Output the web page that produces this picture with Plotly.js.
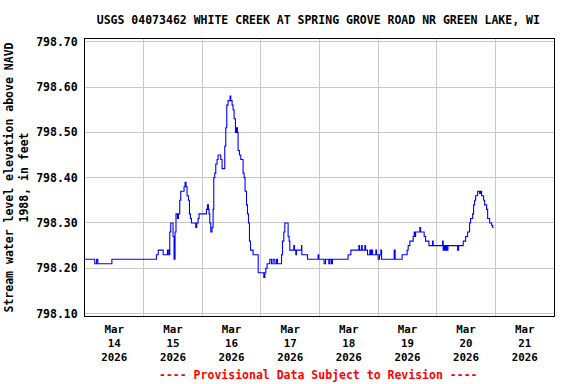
<!DOCTYPE html>
<html>
<head>
<meta charset="utf-8">
<script src="https://cdn.plot.ly/plotly-3.0.1.min.js"></script>
<style>html,body{margin:0;padding:0;background:#fff;}#chart{width:576px;height:384px;}</style>
</head>
<body>
<div id="chart"></div>
<script>
// Hours elapsed since 2026-03-14 00:00 (local station time)
const hoursFromMar14 = [0,4,4.75,5.25,11,29.25,30,32,33.75,34.25,34.7,35.1,36.05,36.45,36.86,37.25,37.85,38.26,38.79,39.2,40.55,40.96,41.37,41.78,42.35,42.76,43.17,43.58,45.34,45.75,46.28,46.69,49.73,50.13,50.54,50.79,51.08,51.49,52.02,52.43,52.72,53.13,53.53,54.07,54.48,55.58,56.12,57.22,57.63,58.04,58.57,59.39,59.68,60.21,60.62,61.03,61.6,62.01,62.42,62.67,63.24,63.78,64.72,65.13,65.54,66.11,66.52,66.93,67.34,67.75,68.81,70.9,73.2,73.61,74.02,74.55,75.65,76.35,77.0,77.7,78.4,78.81,80.45,80.85,81.39,81.8,83.15,83.56,83.85,85.48,85.77,86.3,86.59,88.64,88.76,91.1,95.44,95.72,97.89,98.47,99.82,100.3,100.93,101.3,107.72,108.83,112.11,112.4,113.21,113.46,114.57,114.85,115.67,116.61,116.9,117.31,117.72,119.07,119.36,120.01,120.59,121.12,121.41,126.57,126.98,129.84,131.89,132.3,133.0,134.35,134.76,135.05,135.33,137.09,137.38,138.85,139.43,140.78,142.3,142.54,146.39,146.64,146.92,147.21,147.46,147.75,148.03,148.28,148.56,152.53,152.95,154.83,155.81,156.63,157.45,157.86,158.68,159.09,159.5,159.91,160.73,161.55,161.96,162.37,163.19,163.6,164.42,164.83,165.65,166.47,166.88,167.29];

// Stream water level elevation, feet above NAVD 1988
const waterLevel = [798.22,798.21,798.22,798.21,798.22,798.23,798.24,798.23,798.24,798.23,798.28,798.30,798.27,798.22,798.28,798.32,798.31,798.32,798.35,798.37,798.38,798.39,798.38,798.36,798.35,798.32,798.31,798.30,798.29,798.30,798.31,798.32,798.33,798.34,798.33,798.32,798.30,798.28,798.29,798.33,798.40,798.41,798.43,798.44,798.45,798.44,798.42,798.47,798.51,798.56,798.57,798.58,798.57,798.56,798.55,798.53,798.50,798.51,798.50,798.46,798.45,798.44,798.41,798.40,798.37,798.34,798.32,798.30,798.26,798.24,798.23,798.19,798.18,798.19,798.20,798.21,798.22,798.21,798.22,798.21,798.22,798.21,798.23,798.26,798.28,798.30,798.27,798.26,798.24,798.25,798.24,798.23,798.24,798.25,798.23,798.22,798.23,798.22,798.21,798.22,798.21,798.22,798.21,798.22,798.23,798.24,798.25,798.24,798.25,798.24,798.25,798.24,798.23,798.24,798.23,798.24,798.23,798.24,798.23,798.22,798.23,798.24,798.22,798.24,798.22,798.23,798.24,798.25,798.26,798.27,798.28,798.27,798.28,798.29,798.28,798.27,798.26,798.25,798.26,798.25,798.26,798.24,798.25,798.24,798.25,798.24,798.25,798.24,798.25,798.24,798.25,798.26,798.27,798.28,798.30,798.31,798.32,798.34,798.35,798.36,798.37,798.365,798.37,798.36,798.35,798.34,798.33,798.31,798.30,798.295,798.29,798.29];

const tickDates = ['2026-03-14 12:00','2026-03-15 12:00','2026-03-16 12:00','2026-03-17 12:00','2026-03-18 12:00','2026-03-19 12:00','2026-03-20 12:00','2026-03-21 12:00'];
const tickLabels = ['Mar<br>14<br>2026','Mar<br>15<br>2026','Mar<br>16<br>2026','Mar<br>17<br>2026','Mar<br>18<br>2026','Mar<br>19<br>2026','Mar<br>20<br>2026','Mar<br>21<br>2026'];
const yTicks = [798.10,798.20,798.30,798.40,798.50,798.60,798.70];

function stamp(h){
  const totalMin = Math.round(h*60);
  const day = 14 + Math.floor(totalMin/1440);
  const m = totalMin % 1440;
  const hh = Math.floor(m/60), mm = m % 60;
  const p = n => String(n).padStart(2,'0');
  return `2026-03-${p(day)} ${p(hh)}:${p(mm)}`;
}
const times = hoursFromMar14.map(stamp);

const FONT = 'DejaVu Sans Mono, Liberation Mono, monospace';

const trace = {
  x: times, y: waterLevel, type: 'scatter', mode: 'lines',
  line: {color: '#0000ff', width: 1.1, shape: 'hv'},
  hoverinfo: 'skip'
};

const layout = {
  width: 576, height: 384,
  paper_bgcolor: '#ffffff', plot_bgcolor: '#ffffff',
  margin: {l: 85.3, r: 21.7, t: 39.3, b: 68.3, pad: 0},
  showlegend: false,
  title: {
    text: 'USGS 04073462 WHITE CREEK AT SPRING GROVE ROAD NR GREEN LAKE, WI',
    font: {family: FONT, size: 11.5, color: '#000', weight: 'bold'},
    x: 318.3/576, xanchor: 'center', xref: 'container',
    y: 1 - 20/384, yanchor: 'middle', yref: 'container'
  },
  xaxis: {
    type: 'date',
    range: ['2026-03-14 00:00','2026-03-22 00:00'],
    tickmode: 'array', tickvals: tickDates, ticktext: tickLabels,
    ticks: '', showgrid: false, ticklabelstandoff: 3,
    minor: {dtick: 86400000, tick0: '2026-03-14', showgrid: true, gridcolor: '#c8c8c8', gridwidth: 1, ticks: ''},
    showline: true, mirror: true, linecolor: '#000', linewidth: 1,
    zeroline: false, automargin: false,
    tickfont: {family: FONT, size: 10.8, color: '#000', weight: 'bold'}
  },
  yaxis: {
    range: [798.0947, 798.706],
    tickmode: 'array', tickvals: yTicks, tickformat: '.2f',
    ticks: '', showgrid: true, gridcolor: '#c8c8c8', gridwidth: 1,
    showline: true, mirror: true, linecolor: '#000', linewidth: 1,
    zeroline: false, automargin: false, ticklabelstandoff: 4,
    tickfont: {family: FONT, size: 11.5, color: '#000', weight: 'bold'},
    title: {
      text: 'Stream water level elevation above NAVD<br>1988, in feet',
      font: {family: FONT, size: 11.5, color: '#000', weight: 'bold'},
      standoff: 5
    }
  },
  annotations: [{
    text: '---- Provisional Data Subject to Revision ----',
    xref: 'paper', yref: 'paper', x: (318.3-85.3)/469, y: (315.7-375)/276.4,
    xanchor: 'center', yanchor: 'middle', showarrow: false,
    font: {family: FONT, size: 11.5, color: '#ff0000', weight: 'bold'}
  }]
};

Plotly.newPlot('chart', [trace], layout, {displayModeBar: false, staticPlot: true});
</script>
</body>
</html>
